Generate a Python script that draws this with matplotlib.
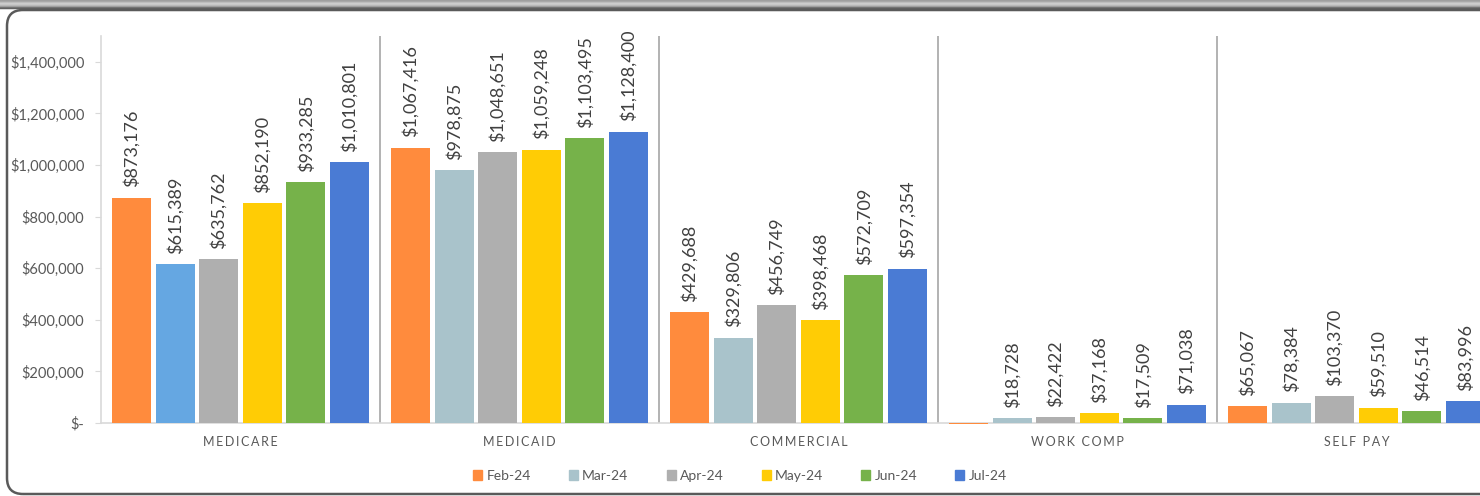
import numpy as np
import matplotlib
matplotlib.use("Agg")
import matplotlib.pyplot as plt
from matplotlib.patches import FancyBboxPatch
from matplotlib.transforms import IdentityTransform

plt.rcParams['font.family'] = ['Lato', 'DejaVu Sans']

categories = ["MEDICARE", "MEDICAID", "COMMERCIAL", "WORK COMP", "SELF PAY"]
months = ["Feb-24", "Mar-24", "Apr-24", "May-24", "Jun-24", "Jul-24"]

feb_24 = [873176, 1067416, 429688, -3000, 65067]
mar_24 = [615389, 978875, 329806, 18728, 78384]
apr_24 = [635762, 1048651, 456749, 22422, 103370]
may_24 = [852190, 1059248, 398468, 37168, 59510]
jun_24 = [933285, 1103495, 572709, 17509, 46514]
jul_24 = [1010801, 1128400, 597354, 71038, 83996]
series = [feb_24, mar_24, apr_24, may_24, jun_24, jul_24]

colors = ["#FF8B3D", "#A9C3CB", "#AFAFAF", "#FFCC05", "#76B24A", "#4A7BD4"]
medicare_mar_color = "#65A7E2"

y_ticks = [0, 200000, 400000, 600000, 800000, 1000000, 1200000, 1400000]

W, H = 1480, 496
fig = plt.figure(figsize=(W / 100, H / 100), dpi=100)

# plot area spans five equal groups; the last one runs past the right edge
left_px, top_px, axis_px, group_px = 101, 36, 423, 279
ax = fig.add_axes([left_px / W, (H - axis_px) / H,
                   5 * group_px / W, (axis_px - top_px) / H])

n = len(months)
pitch, width = 0.156, 0.14
x = np.arange(len(categories))
for i, (vals, col) in enumerate(zip(series, colors)):
    offs = x + (i - (n - 1) / 2) * pitch
    cols = [col] * len(categories)
    if i == 1:
        cols[0] = medicare_mar_color
    ax.bar(offs, vals, width=width, color=cols, zorder=3, clip_on=False)
    for xo, v in zip(offs, vals):
        if v <= 0:
            continue
        ax.annotate(f"${v:,.0f}", (xo, v), xytext=(0, 7.5), textcoords='offset points',
                    rotation=90, ha='center', va='bottom', fontsize=13,
                    color="#404040", zorder=4)

ax.set_xlim(-0.5, len(categories) - 0.5)
ax.set_ylim(0, 1500000)

for b in np.arange(0.5, len(categories) - 0.5, 1.0):
    ax.axvline(b, color="#A6A6A6", lw=1.2, zorder=2)

ax.set_yticks(y_ticks)
ax.set_yticklabels(["$-" if t == 0 else f"${t:,.0f}" for t in y_ticks])
ax.tick_params(axis='y', length=4, color="#D9D9D9", labelsize=10.5, labelcolor="#595959", pad=8)
ax.set_xticks(x)
ax.set_xticklabels(["\u2009".join(c) for c in categories])
ax.tick_params(axis='x', length=0, labelsize=9, labelcolor="#595959", pad=9)

for s in ("top", "right"):
    ax.spines[s].set_visible(False)
ax.spines["left"].set_color("#D9D9D9")
ax.spines["bottom"].set_color("#D9D9D9")
ax.spines["left"].set_linewidth(1.2)
ax.spines["bottom"].set_linewidth(1.2)

handles = [plt.Rectangle((0, 0), 1, 1, color=c) for c in colors]
fig.legend(handles, months, loc='center', bbox_to_anchor=(0.5, (H - 476) / H),
           ncol=n, frameon=False, fontsize=10, labelcolor="#595959",
           handlelength=0.65, handleheight=0.65, handletextpad=0.3, columnspacing=2.75)

# rounded frame around the chart
frame = FancyBboxPatch((7, 2), 1600, 486 - 2, boxstyle="round,pad=0,rounding_size=16",
                       transform=IdentityTransform(), fill=False, ec="#5A5A5A", lw=1.8)
fig.patches.append(frame)

# grey band along the top edge
band = fig.add_axes([0, 1 - 10 / H, 1, 10 / H])
grad = np.array([0.62, 0.66, 0.74, 0.80, 0.78, 0.72, 0.62, 0.45, 0.38, 0.85])
band.imshow(np.tile(grad[:, None], (1, 10)), cmap='gray', vmin=0, vmax=1,
            aspect='auto', interpolation='nearest')
band.axis('off')

fig.savefig("out.png", dpi=100)
